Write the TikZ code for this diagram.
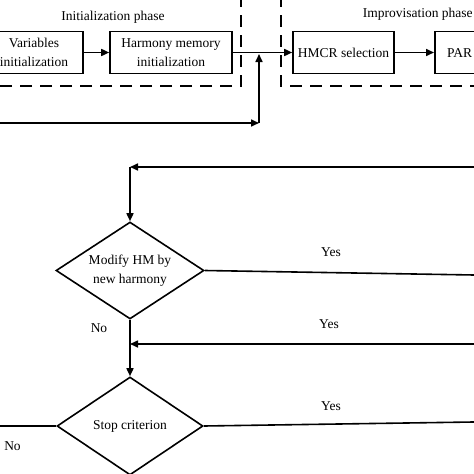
\documentclass[tikz,border=0pt]{standalone}
\usepackage{fontspec}
\setmainfont{Liberation Serif}
\usetikzlibrary{shapes.geometric,arrows.meta}
\newcommand\myfs{\fontsize{13.5}{19}\selectfont}
\begin{document}
\begin{tikzpicture}[x=1pt,y=-1pt,
  line width=1.6pt,
  >={Triangle[length=8pt,width=7pt]},
  box/.style={draw,rectangle,minimum height=42pt,inner sep=0pt,align=center,font=\myfs},
  dia/.style={draw,diamond,aspect=1.5,inner sep=0pt,align=center,font=\myfs},
  lbl/.style={inner sep=0pt,font=\myfs},
  phase/.style={dash pattern=on 12pt off 8pt}
]
\useasboundingbox (0,0) rectangle (474,474);
\clip (0,0) rectangle (474,474);
% phase frames
\draw[phase] (241,-5) -- (241,86) -- (-5,86);
\draw[phase] (281,-5) -- (281,86) -- (480,86);
\node[lbl] (ip) at (113,17) {Initialization phase};
\node[lbl,anchor=west] (imp) at (362,14) {Improvisation phase};
% boxes
\node[box,minimum width=98pt] (var) at (34,52.5) {Variables\\initialization};
\node[box,minimum width=122pt] (hm) at (171,52.5) {Harmony memory\\initialization};
\node[box,minimum width=101pt] (hmcr) at (343.5,52.5) {HMCR selection};
\node[box,minimum width=101pt,anchor=west] (par) at (434,52.5) {PAR selection};
\draw[->] (var) -- (hm);
\draw[->] (hm) -- (hmcr);
\draw[->] (hmcr) -- (par);
% feedback into main line
\coordinate (fbl) at (-5,123);
\coordinate (fbc) at (259,123);
\coordinate (fbj) at (259,54);
\draw[->] (fbl) -- (fbc);
\draw[->] (fbc) -- (fbj);
% diamonds
\node[dia,minimum width=148pt,minimum height=97pt] (d1) at (130,270.5) {Modify HM by\\new harmony};
\node[dia,minimum width=146pt,minimum height=98pt] (d2) at (130,426) {Stop criterion};
\coordinate (t1) at (480,167);
\coordinate (t2) at (130,167);
\draw[->] (t1) -- (t2);
\draw[->] (t2) -- (d1.north);
\coordinate (r2) at (480,275.1);
\draw (d1.east) -- (r2);
\node[lbl] (y1) at (331,252) {Yes};
\node[lbl] (n1) at (99,328) {No};
\coordinate (r3) at (480,344);
\coordinate (m3) at (130,344);
\draw[->] (r3) -- (m3);
\node[lbl] (y2) at (329,324) {Yes};
\draw[->] (d1.south) -- (d2.north);
\coordinate (r4) at (480,421.9);
\draw (d2.east) -- (r4);
\node[lbl] (y3) at (331,406) {Yes};
\coordinate (l4) at (-5,426);
\draw (d2.west) -- (l4);
\node[lbl] (n2) at (12.5,446) {No};
\end{tikzpicture}
\end{document}
